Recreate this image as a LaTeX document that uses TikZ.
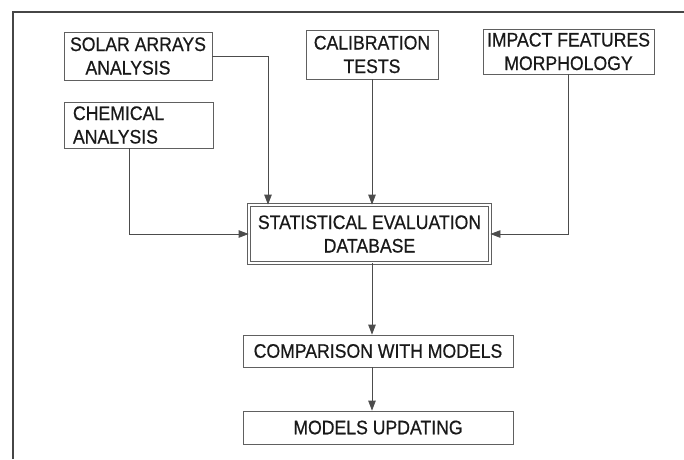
\documentclass[tikz,border=0pt]{standalone}
\usepackage{fontspec}
\setmainfont{Liberation Sans}[FakeStretch=0.9,FakeBold=0.6]
\usetikzlibrary{arrows.meta,calc}
\begin{document}
\begin{tikzpicture}[x=1pt,y=-1pt,
  box/.style={draw=gray!75!black, line width=0.8pt, rectangle, inner sep=0pt,
    font=\fontsize{19.6}{23.5}\selectfont, text=black!90, align=center},
  conn/.style={draw=gray!60!black, line width=0.8pt},
  arr/.style={conn, -{Triangle[length=10pt,width=7.5pt]}},
  frame/.style={draw=gray!55!black, line width=2.2pt}]
\useasboundingbox (0,0) rectangle (684,459);
\coordinate (ftl) at (13,12);
\coordinate (fbl) at (13,459);
\coordinate (ftr) at (684,12);
\draw[frame] (fbl) -- (ftl) -- (ftr);

\node[box, minimum width=148pt, minimum height=48pt] (solar) at (138,56)
  {SOLAR ARRAYS\\ANALYSIS\hspace*{20pt}};
\node[box, minimum width=149pt, minimum height=46pt, text width=131pt, inner xsep=9pt, align=left] (chem) at (138.5,125)
  {CHEMICAL\\ANALYSIS};
\node[box, minimum width=132pt, minimum height=49pt] (cal) at (372,54.5)
  {CALIBRATION\\TESTS};
\node[box, minimum width=171pt, minimum height=45pt] (imp) at (568.5,51.5)
  {IMPACT FEATURES\\MORPHOLOGY};
\node[box, minimum width=241pt, minimum height=58pt, double=white, double distance=2pt] (stat) at (369.5,234)
  {STATISTICAL EVALUATION\\DATABASE};
\node[box, minimum width=270pt, minimum height=32pt] (comp) at (378,351)
  {COMPARISON WITH MODELS};
\node[box, minimum width=270pt, minimum height=33pt] (upd) at (378,427.5)
  {MODELS UPDATING};

\coordinate (sx) at (268,0);
\coordinate (ax) at (372,0);
\coordinate (cx) at (129,0);

\draw[arr] (solar.east) -| (stat.north -| sx);
\draw[arr] (cal.south -| ax) -- (stat.north -| ax);
\draw[arr] (chem.south -| cx) |- (stat.west);
\draw[arr] (imp.south) |- (stat.east);
\draw[arr] (stat.south -| ax) -- (comp.north -| ax);
\draw[arr] (comp.south -| ax) -- (upd.north -| ax);
\end{tikzpicture}
\end{document}
